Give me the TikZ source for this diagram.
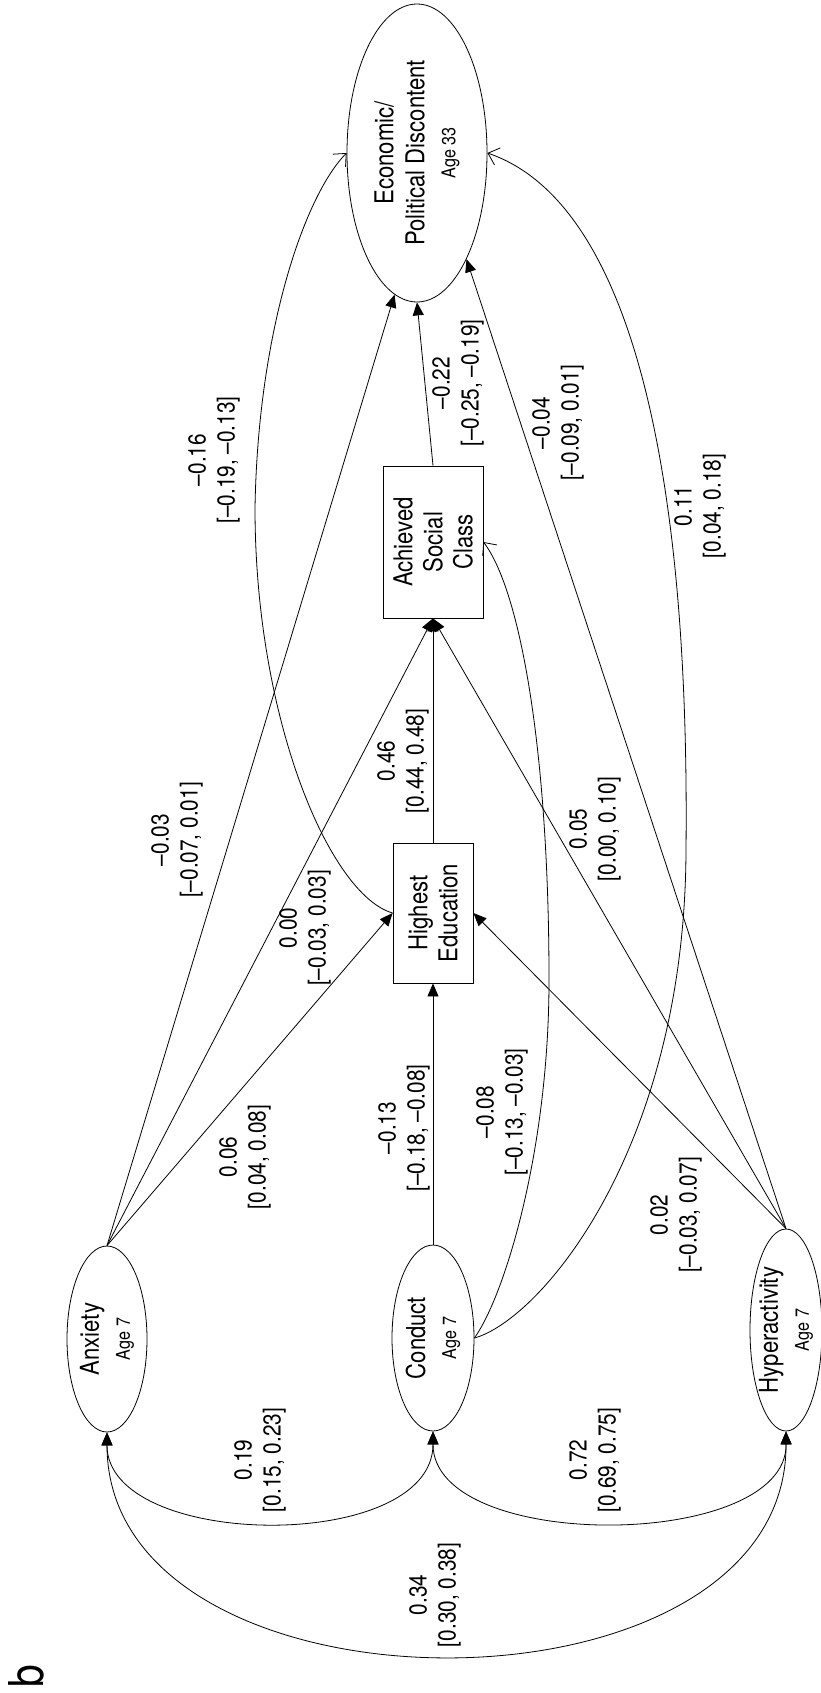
\documentclass[tikz,border=0pt]{standalone}
\usepackage{fontspec}
\setmainfont{TeX Gyre Heros}[FakeStretch=0.85]
\usetikzlibrary{arrows.meta,shapes.geometric}
\newcommand{\agefont}{\fontsize{19}{31}\selectfont}
\newcommand{\md}{\textendash}
\begin{document}
\begin{tikzpicture}[x=1pt,y=-1pt,line width=0.8pt,
  latshape/.style={draw, ellipse, rotate=90, inner sep=0pt},
  lattext/.style={rotate=90, align=center, inner sep=0pt, font=\fontsize{26}{31}\selectfont},
  obs/.style={draw, rectangle, rotate=90, inner sep=0pt, align=center, font=\fontsize{26}{30}\selectfont},
  lbl/.style={rotate=90, align=center, inner sep=0pt, font=\fontsize{24.5}{29}\selectfont},
  patharr/.style={-{Triangle[length=13pt,width=11pt]}},
  cov/.style={{Triangle[length=13pt,width=11pt]}-{Triangle[length=13pt,width=11pt]}},
  openarr/.style={-{Straight Barb[length=10pt,width=18pt]}},
]
\useasboundingbox (0,0) rectangle (820,1693);

% latent / observed nodes
\node[latshape, minimum width=298pt, minimum height=140pt] (econ) at (417,153) {};
\node[lattext] (econtxt) at (econ.center) {Economic/\\Political Discontent\\{\agefont Age 33}};
\node[obs, minimum width=152pt, minimum height=100pt] (asc) at (433,542) {Achieved\\Social\\Class};
\node[obs, minimum width=140pt, minimum height=80pt] (he) at (433,913) {Highest\\Education};
\node[latshape, minimum width=186pt, minimum height=80pt] (anx) at (107,1339) {};
\node[lattext] (anxtxt) at (anx.center) {Anxiety\\{\agefont Age 7}};
\node[latshape, minimum width=186pt, minimum height=82pt] (con) at (433,1338) {};
\node[lattext] (context) at (con.center) {Conduct\\{\agefont Age 7}};
\node[latshape, minimum width=202pt, minimum height=72pt] (hyp) at (786,1330) {};
\node[lattext] (hyptxt) at (hyp.center) {Hyperactivity\\{\agefont Age 7}};

% waypoints of curved paths
\coordinate (w1) at (255,508);
\coordinate (w2) at (686,850);
\coordinate (w3) at (549,980);

% straight regressions
\draw[patharr] (anx.east) -- (he.north);
\draw[patharr] (anx.east) -- (asc.west);
\draw[patharr] (anx.east) -- (econ.171);
\draw[patharr] (con.east) -- (he.west);
\draw[patharr] (hyp.east) -- (he.south);
\draw[patharr] (hyp.east) -- (asc.west);
\draw[patharr] (hyp.east) -- (econ.205);
\draw[patharr] (he.east) -- (asc.west);
\draw[patharr] (asc.east) -- (econ.west);

% curved regressions
\draw[openarr] (he.north) .. controls (330,895) and (255,720) .. (w1)
  .. controls (258,330) and (305,195) .. (econ.north);
\draw[openarr] (con.south) .. controls (540,1320) and (685,1150) .. (w2)
  .. controls (690,450) and (625,200) .. (econ.south);
\draw[openarr] (con.south) .. controls (505,1295) and (549,1150) .. (w3)
  .. controls (549,750) and (520,590) .. (asc.south);

% covariances
\draw[cov] (anx.west) .. controls (107,1550) and (433,1554) .. (con.west);
\draw[cov] (con.west) .. controls (433,1553) and (787,1551) .. (hyp.west);
\draw[cov] (anx.west) .. controls (107,1728) and (787,1730) .. (hyp.west);

% labels
\node[lbl] (l06) at (245,1157) {0.06\\{[}0.04, 0.08]};
\node[lbl] (l13) at (404,1128) {\md0.13\\{[}\md0.18, \md0.08]};
\node[lbl] (l08) at (502,1112) {\md0.08\\{[}\md0.13, \md0.03]};
\node[lbl] (l02) at (676,1215) {0.02\\{[}\md0.03, 0.07]};
\node[lbl] (l00) at (305,928) {0.00\\{[}\md0.03, 0.03]};
\node[lbl] (l03) at (177,840) {\md0.03\\{[}\md0.07, 0.01]};
\node[lbl] (l46) at (403,761) {0.46\\{[}0.44, 0.48]};
\node[lbl] (l05) at (595,829) {0.05\\{[}0.00, 0.10]};
\node[lbl] (l16) at (214,460) {\md0.16\\{[}\md0.19, \md0.13]};
\node[lbl] (l22) at (458,383) {\md0.22\\{[}\md0.25, \md0.19]};
\node[lbl] (l04) at (558,423) {\md0.04\\{[}\md0.09, 0.01]};
\node[lbl] (l11) at (700,506) {0.11\\{[}0.04, 0.18]};
\node[lbl] (l19) at (260,1460) {0.19\\{[}0.15, 0.23]};
\node[lbl] (l72) at (595,1460) {0.72\\{[}0.69, 0.75]};
\node[lbl] (l34) at (435,1595) {0.34\\{[}0.30, 0.38]};
\node[rotate=90, inner sep=0pt, font=\fontsize{48}{48}\selectfont] (panel) at (26,1676) {b};
\end{tikzpicture}
\end{document}
